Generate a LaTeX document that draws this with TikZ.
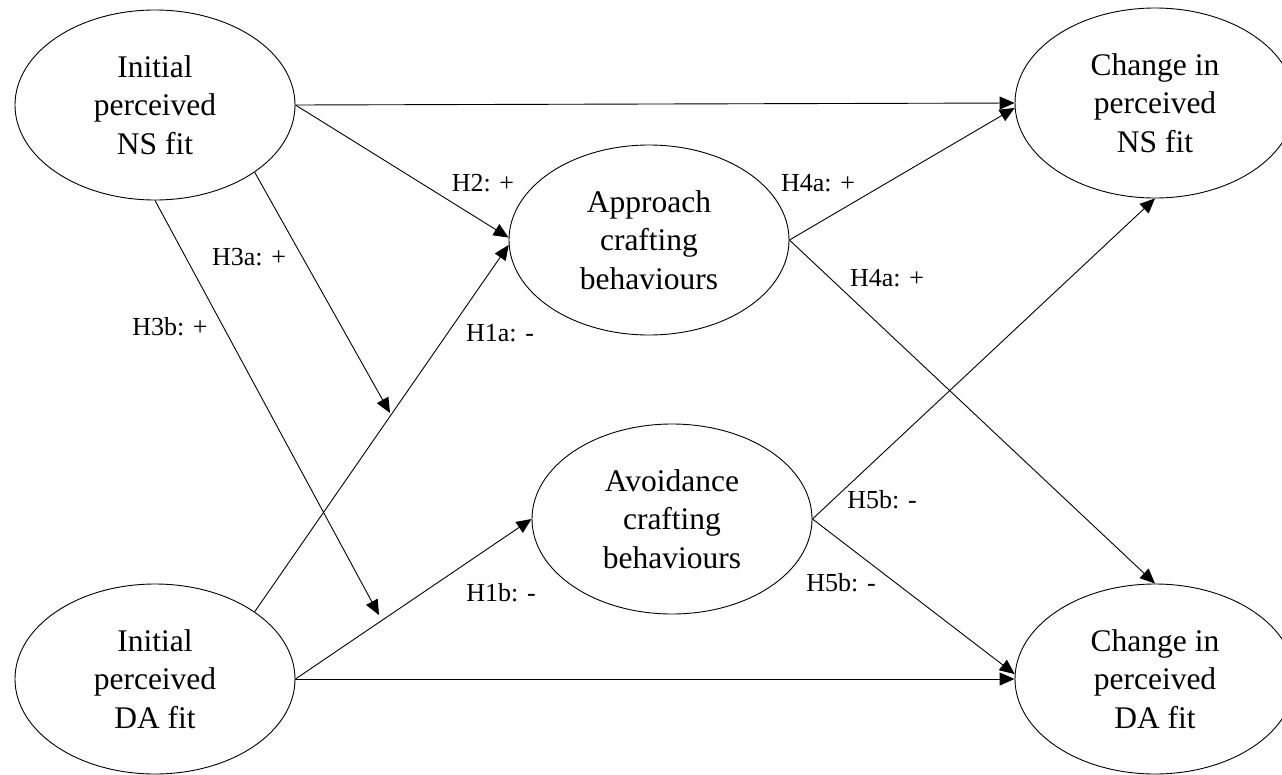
\documentclass[tikz,border=0pt]{standalone}
\usepackage{fontspec}
\setmainfont{Liberation Serif}
\usetikzlibrary{shapes.geometric,arrows.meta}

\begin{document}
\begin{tikzpicture}[x=1pt,y=-1pt,
  construct/.style={draw, ellipse, line width=0.9pt, minimum width=280pt,
    minimum height=190pt, inner sep=0pt, align=center,
    font=\fontsize{31.5}{38.5}\selectfont},
  link/.style={draw, line width=0.9pt, -{Triangle[length=15pt,width=13pt]}},
  hyp/.style={font=\fontsize{26}{30}\selectfont, inner sep=0pt}]

\useasboundingbox (0,0) rectangle (1282,774);
\clip (0,0) rectangle (1282,774);

% constructs
\node[construct] (nsi)  at (155,105) {Initial\\perceived\\NS fit};
\node[construct] (dai)  at (155,679) {Initial\\perceived\\DA fit};
\node[construct] (appr) at (649,240) {Approach\\crafting\\behaviours};
\node[construct] (avd)  at (672,519) {Avoidance\\crafting\\behaviours};
\node[construct] (cns)  at (1155,103) {Change in\\perceived\\NS fit};
\node[construct] (cda)  at (1155,679) {Change in\\perceived\\DA fit};

% moderation targets on the H1 paths
\coordinate (m1) at (390,413);
\coordinate (m2) at (379,615);

% paths
\draw[link] (nsi.east) -- (cns.west);
\draw[link] (nsi.east) -- (appr.179);
\draw[link] (nsi.-34) -- (m1);
\draw[link] (nsi.south) -- (m2);
\draw[link] (dai.34) -- (appr.182);
\draw[link] (dai.east) -- (avd.west);
\draw[link] (dai.east) -- (cda.west);
\draw[link] (appr.east) -- (cns.182);
\draw[link] (appr.east) -- (cda.north);
\draw[link] (avd.east) -- (cns.south);
\draw[link] (avd.east) -- (cda.178);

% hypothesis labels
\node[hyp] (h2)   at (483,183) {H2: +};
\node[hyp] (h3a)  at (249,257) {H3a: +};
\node[hyp] (h3b)  at (170,327) {H3b: +};
\node[hyp] (h1a)  at (500,333) {H1a: -};
\node[hyp] (h1b)  at (501,593) {H1b: -};
\node[hyp] (h4a1) at (818,183) {H4a: +};
\node[hyp] (h4a2) at (887,278) {H4a: +};
\node[hyp] (h5b1) at (882,500) {H5b: -};
\node[hyp] (h5b2) at (841,583) {H5b: -};
\end{tikzpicture}
\end{document}
